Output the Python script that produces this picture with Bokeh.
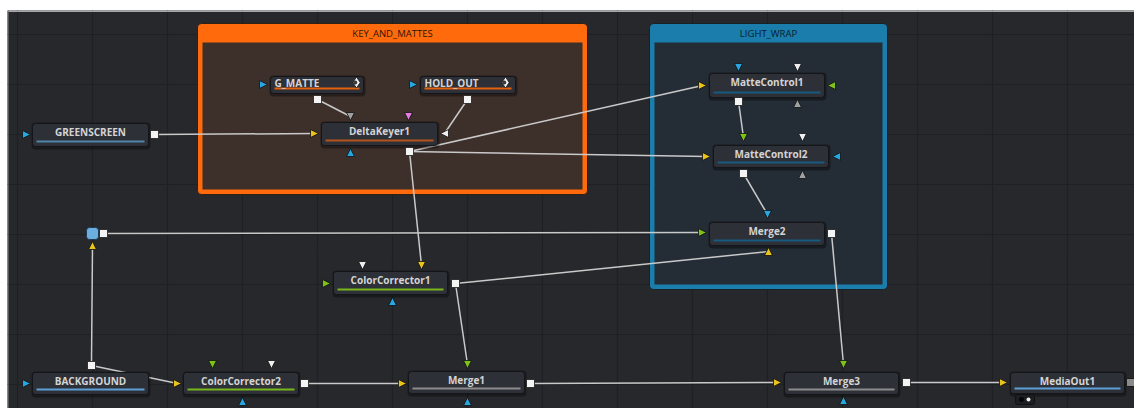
from bokeh.plotting import figure
from bokeh.models import Range1d, Grid, FixedTicker, Span
from bokeh.core.properties import value
from bokeh.embed import file_html
from bokeh.resources import INLINE

# ---------------- data ----------------
node_names = ["GREENSCREEN", "G_MATTE", "HOLD_OUT", "DeltaKeyer1", "MatteControl1",
              "MatteControl2", "Merge2", "ColorCorrector1", "BACKGROUND",
              "ColorCorrector2", "Merge1", "Merge3", "MediaOut1"]
node_left = [32, 270, 420, 321, 709, 713, 709, 333, 32, 183, 408, 784, 1010]
node_right = [148, 363, 515, 437, 824, 828, 824, 447, 148, 298, 524, 898, 1124]
node_top = [123, 76, 76, 122, 73, 145, 222, 271, 372, 372, 371, 372, 372]
node_bottom = [146, 93, 93, 145, 97, 167, 245, 294, 394, 394, 393, 394, 393]
node_bar = ["#4f86a8", "#e4610e", "#e4610e", "#b4521c", "#175a80", "#175a80", "#175a80",
            "#79b51c", "#5d9fd6", "#79b51c", "#8c8c8c", "#8c8c8c", "#5d9fd6"]
node_align = ["center", "left", "left", "center", "center", "center", "center", "center",
              "center", "center", "center", "center", "center"]

group_names = ["KEY_AND_MATTES", "LIGHT_WRAP"]
group_left = [197, 649]
group_right = [587, 887]
group_top = [23, 23]
group_bottom = [194, 289]
group_frame = ["#ff6b0c", "#1a7dab"]
group_fill = ["#3d2f2a", "#242c36"]
group_title_color = ["#2e1504", "#08202e"]

# output ports (white squares)
out_ports = {
    "GS": (154, 134), "GM": (317, 99), "HO": (467, 99), "DK": (409, 151),
    "MC1": (738, 101), "MC2": (743, 173), "M2": (831, 233), "PIPE": (103, 233),
    "BG": (91, 365), "CC2": (304, 383), "CC1": (455, 283), "M1": (530, 383),
    "M3": (906, 382),
}
# input ports: name -> (x, y, direction, colour)
in_ports = {
    "GS.in": (26, 134, "r", "#27a6e0"),
    "GM.in": (263, 84, "r", "#27a6e0"),
    "HO.in": (413, 84, "r", "#27a6e0"),
    "DK.bg": (314, 133, "r", "#e9c21c"),
    "DK.gm": (350, 116, "d", "#a0a0a0"),
    "DK.pk": (408, 116, "d", "#e07ee0"),
    "DK.ho": (444, 133, "l", "#eeeeee"),
    "DK.fx": (350, 152, "u", "#27a6e0"),
    "MC1.bl": (738, 67, "d", "#27a6e0"),
    "MC1.wh": (797, 67, "d", "#eeeeee"),
    "MC1.bg": (702, 85, "r", "#e9c21c"),
    "MC1.gr": (831, 85, "l", "#7cc21a"),
    "MC1.gy": (797, 103, "u", "#a0a0a0"),
    "MC2.gr": (743, 137, "d", "#7cc21a"),
    "MC2.wh": (802, 137, "d", "#eeeeee"),
    "MC2.bg": (706, 156, "r", "#e9c21c"),
    "MC2.bl": (836, 156, "l", "#27a6e0"),
    "MC2.gy": (802, 174, "u", "#a0a0a0"),
    "M2.bl": (767, 214, "d", "#27a6e0"),
    "M2.gr": (702, 232, "r", "#7cc21a"),
    "M2.ye": (768, 251, "u", "#e9c21c"),
    "PIPE.in": (92, 245, "u", "#e9c21c"),
    "BG.in": (26, 383, "r", "#27a6e0"),
    "CC2.bg": (177, 383, "r", "#e9c21c"),
    "CC2.gr": (212, 364, "d", "#7cc21a"),
    "CC2.wh": (271, 364, "d", "#eeeeee"),
    "CC2.bl": (242, 401, "u", "#27a6e0"),
    "CC1.gr": (326, 283, "r", "#7cc21a"),
    "CC1.wh": (362, 265, "d", "#eeeeee"),
    "CC1.ye": (421, 265, "d", "#e9c21c"),
    "CC1.bl": (392, 301, "u", "#27a6e0"),
    "M1.bg": (402, 383, "r", "#e9c21c"),
    "M1.gr": (467, 364, "d", "#7cc21a"),
    "M1.bl": (467, 401, "u", "#27a6e0"),
    "M3.bg": (777, 382, "r", "#e9c21c"),
    "M3.gr": (843, 364, "d", "#7cc21a"),
    "M3.bl": (843, 400, "u", "#27a6e0"),
    "MO.in": (1003, 382, "r", "#e9c21c"),
}
edges = [("GS", "DK.bg"), ("GM", "DK.gm"), ("HO", "DK.ho"), ("DK", "MC1.bg"),
         ("DK", "MC2.bg"), ("DK", "CC1.ye"), ("MC1", "MC2.gr"), ("MC2", "M2.bl"),
         ("PIPE", "M2.gr"), ("BG", "PIPE.in"), ("BG", "CC2.bg"), ("CC1", "M2.ye"),
         ("CC1", "M1.gr"), ("CC2", "M1.bg"), ("M1", "M3.bg"), ("M2", "M3.gr"),
         ("M3", "MO.in")]

# ---------------- figure ----------------
BG = "#27282c"
p = figure(width=1134, height=408, x_range=Range1d(7, 1134), y_range=Range1d(408, 10),
           output_backend="svg", toolbar_location=None, x_axis_type=None, y_axis_type=None,
           min_border_left=7, min_border_right=0, min_border_bottom=0, min_border_top=10,
           background_fill_color=BG, border_fill_color="white", outline_line_color=None)

p.add_layout(Grid(dimension=0, ticker=FixedTicker(ticks=[17 + 75 * i for i in range(16)]),
                  grid_line_color="#1f2023", grid_line_width=1.2))
p.add_layout(Grid(dimension=1, ticker=FixedTicker(ticks=[34 + 50 * i for i in range(8)]),
                  grid_line_color="#1f2023", grid_line_width=1.2))
p.add_layout(Span(location=10.8, dimension="width", line_color="#a8a8a8", line_width=1.6))
p.add_layout(Span(location=7.6, dimension="height", line_color="#6a6a6a", line_width=1.2))

# groups
p.quad(left=group_left, right=group_right, top=group_top, bottom=group_bottom,
       fill_color=group_frame, line_color="#151515", line_width=0.8, border_radius=4)
p.quad(left=[l + 5 for l in group_left], right=[r - 5 for r in group_right],
       top=[t + 19 for t in group_top], bottom=[b - 5 for b in group_bottom],
       fill_color=group_fill, line_color=None)
p.text(x=[(l + r) / 2 for l, r in zip(group_left, group_right)],
       y=[t + 10 for t in group_top], text=group_names, text_align="center",
       text_baseline="middle", text_color=group_title_color, text_font_size="9.5px",
       text_font=value("Open Sans"))

# edges
ex0, ey0, ex1, ey1 = [], [], [], []
for a, b in edges:
    ex0.append(out_ports[a][0]); ey0.append(out_ports[a][1])
    ex1.append(in_ports[b][0]); ey1.append(in_ports[b][1])
p.segment(x0=ex0, y0=ey0, x1=ex1, y1=ey1, line_color="#c9c9c9", line_width=1.5)

# node shadows + boxes
p.quad(left=[l - 1 for l in node_left], right=[r + 2 for r in node_right],
       top=[t - 1 for t in node_top], bottom=[b + 3 for b in node_bottom],
       fill_color="black", fill_alpha=0.35, line_color=None, border_radius=4)
p.quad(left=node_left, right=node_right, top=node_top, bottom=node_bottom,
       fill_color="#2e3037", line_color="#141518", line_width=1, border_radius=3)
p.segment(x0=[l + 4 for l in node_left], x1=[r - 4 for r in node_right],
          y0=[b - 5 for b in node_bottom], y1=[b - 5 for b in node_bottom],
          line_color=node_bar, line_width=2)

tx, ty, tt, ta = [], [], [], []
for n, l, r, t, b, a in zip(node_names, node_left, node_right, node_top, node_bottom, node_align):
    tx.append((l + r) / 2 if a == "center" else l + 4)
    ty.append(t + 8.5 if (b - t) > 20 else t + 6.5)
    tt.append(n)
    ta.append(a)
p.text(x=tx, y=ty, text=tt, text_align=ta, text_baseline="middle", text_color="#d4d4d4",
       text_font_size="10px", text_font=value("Open Sans"), text_font_style="bold")

# G_MATTE / HOLD_OUT icons
icon_x = [356, 505]
icon_y = [82, 82]
p.scatter(x=icon_x, y=icon_y, marker="diamond", size=11, fill_color="#f2f2f2",
          line_color="#1a1a1a", line_width=0.8)
p.scatter(x=[x - 1.2 for x in icon_x], y=icon_y, marker="circle", size=4, fill_color="#3a3a3a",
          line_color=None)

# pipe router node
p.quad(left=[86], right=[98], top=[227], bottom=[239], fill_color="#6aaee0",
       line_color="#20374f", line_width=1, border_radius=3)

# input triangles
s = 4
xs, ys, cs = [], [], []
for k, (x, y, d, c) in in_ports.items():
    if d == "r":
        xs.append([x - s, x + s, x - s]); ys.append([y - s, y, y + s])
    elif d == "l":
        xs.append([x + s, x - s, x + s]); ys.append([y - s, y, y + s])
    elif d == "u":
        xs.append([x - s, x, x + s]); ys.append([y + s, y - s, y + s])
    else:
        xs.append([x - s, x, x + s]); ys.append([y - s, y + s, y - s])
    cs.append(c)
p.patches(xs=xs, ys=ys, fill_color=cs, line_color="#101010", line_width=0.8)

# output squares
p.scatter(x=[v[0] for v in out_ports.values()], y=[v[1] for v in out_ports.values()],
          marker="square", size=8, fill_color="#f4f4f4", line_color="#1a1a1a", line_width=0.8)

# MediaOut extras
p.scatter(x=[1130], y=[382], marker="square", size=8, fill_color="#8a8a8a", line_color="#1a1a1a")
p.quad(left=[1015], right=[1034], top=[394], bottom=[404], fill_color="#1d1e22",
       line_color="#111", border_radius=2)
p.scatter(x=[1021, 1028], y=[399, 399], marker="circle", size=[5, 4],
          fill_color=["#050505", "#eeeeee"], line_color=None)

open("out.html", "w").write(file_html(p, INLINE))
